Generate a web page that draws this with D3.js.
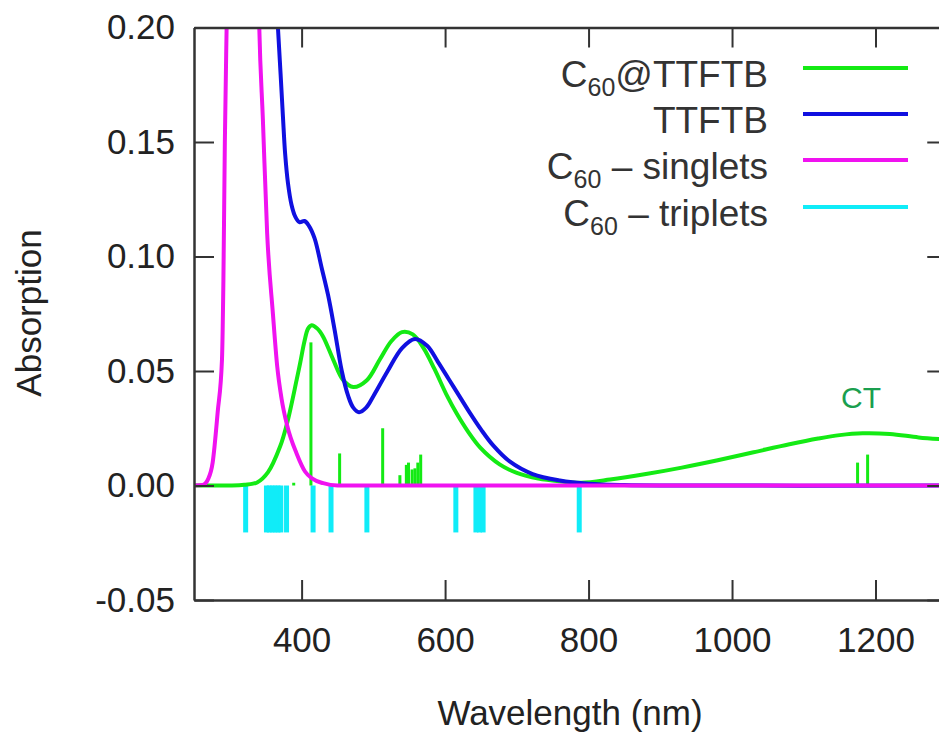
<!DOCTYPE html>
<html><head><meta charset="utf-8">
<script src="https://cdn.jsdelivr.net/npm/d3@7"></script>
<style>
html,body{margin:0;padding:0;background:#fff;}
svg{display:block;font-family:"Liberation Sans",Arial,Helvetica,sans-serif;}
</style></head>
<body>
<svg id="chart" width="939" height="736"></svg>
<script>
// ---- data ----
const xTickValues = [400, 600, 800, 1000, 1200];
const yTickValues = [-0.05, 0, 0.05, 0.10, 0.15, 0.20];
const yTickLabels = ["-0.05", "0.00", "0.05", "0.10", "0.15", "0.20"];

// C60@TTFTB spectrum
const compWl  = [250, 300, 320, 338, 353, 370, 380, 393, 398, 404, 409, 414, 422, 430, 444, 458, 472, 491, 509, 525, 540, 555, 570, 585, 603, 616, 632, 649, 676, 700, 730, 760, 790, 830, 880, 930, 980, 1030, 1080, 1120, 1150, 1182, 1220, 1260, 1300];
const compAbs = [0, 0, 0.0003, 0.0013, 0.0057, 0.017, 0.0275, 0.046, 0.0535, 0.063, 0.0685, 0.070, 0.0685, 0.065, 0.055, 0.046, 0.043, 0.046, 0.055, 0.063, 0.067, 0.066, 0.060, 0.051, 0.039, 0.0315, 0.0235, 0.0165, 0.0092, 0.0055, 0.003, 0.0018, 0.0012, 0.0026, 0.005, 0.0078, 0.011, 0.0145, 0.018, 0.0205, 0.022, 0.0228, 0.0225, 0.021, 0.020];

// TTFTB spectrum
const ttfWl  = [360, 367, 371, 374, 377, 381, 386, 391, 397, 404, 410, 418, 428, 437, 446, 456, 465, 472, 480, 490, 500, 520, 540, 558, 575, 590, 605, 621, 635, 650, 667, 690, 722, 760, 800, 850, 900, 1300];
const ttfAbs = [0.24, 0.20, 0.178, 0.161, 0.145, 0.132, 0.1225, 0.1175, 0.115, 0.1155, 0.1135, 0.108, 0.095, 0.083, 0.068, 0.050, 0.039, 0.034, 0.032, 0.034, 0.039, 0.050, 0.060, 0.064, 0.061, 0.054, 0.0465, 0.0385, 0.0315, 0.0245, 0.0175, 0.0105, 0.005, 0.0022, 0.0008, 0.0002, 0, 0];

// C60 singlets spectrum
const singWl  = [250, 262, 270, 276, 283, 289, 291, 293, 296, 300, 310, 320, 330, 336, 341, 346, 352, 360, 366, 372, 380, 393, 405, 415, 430, 450, 1300];
const singAbs = [0, 0.0002, 0.003, 0.010, 0.032, 0.055, 0.09, 0.15, 0.21, 0.30, 0.45, 0.48, 0.40, 0.29, 0.20, 0.16, 0.110, 0.075, 0.052, 0.038, 0.026, 0.014, 0.006, 0.003, 0.001, 0, 0];

// C60@TTFTB transitions (sticks)
const compStickWl  = [389, 413, 453, 513, 537, 546, 549, 554, 558, 562, 566, 1175, 1189];
const compStickAbs = [0.0012, 0.0625, 0.014, 0.025, 0.0045, 0.009, 0.010, 0.007, 0.0075, 0.010, 0.0135, 0.010, 0.0135];

// C60 triplet transitions (drawn downward)
const tripWl  = [322, 351, 355, 359, 363, 367, 371, 379, 416, 441, 491, 615, 643, 648, 653, 787];
const tripAbs = [-0.0205, -0.0205, -0.0205, -0.0205, -0.0205, -0.0205, -0.0205, -0.0205, -0.0205, -0.0205, -0.0205, -0.0205, -0.0205, -0.0205, -0.0205, -0.0205];

const legendNames = [["C", "60", "@TTFTB"], ["", "", "TTFTB"], ["C", "60", " \u2013 singlets"], ["C", "60", " \u2013 triplets"]];
const ctLabel = "CT";
const xTitle = "Wavelength (nm)";
const yTitle = "Absorption";

// ---- drawing ----
const colors = {comp: "#14ea14", ttf: "#1010e0", sing: "#f012f0", trip: "#10ecf8", ct: "#1a9f4f", axis: "#333"};
const svg = d3.select("#chart");
const L = 194, R = 947.25, T = 27.5, B = 600;
const x = d3.scaleLinear().domain([250, 1300]).range([L, R]);
const y = d3.scaleLinear().domain([-0.05, 0.20]).range([B, T]);

svg.append("defs").append("clipPath").attr("id", "clip")
  .append("rect").attr("x", L).attr("y", T).attr("width", R - L).attr("height", B - T);

const plot = svg.append("g").attr("clip-path", "url(#clip)");

// triplet sticks
plot.append("g").selectAll("line").data(tripWl).join("line")
  .attr("x1", d => x(d)).attr("x2", d => x(d))
  .attr("y1", y(0)).attr("y2", (d, i) => y(tripAbs[i]))
  .attr("stroke", colors.trip).attr("stroke-width", 5);

// composite sticks
plot.append("g").selectAll("line").data(compStickWl).join("line")
  .attr("x1", d => x(d)).attr("x2", d => x(d))
  .attr("y1", y(0)).attr("y2", (d, i) => y(compStickAbs[i]))
  .attr("stroke", colors.comp).attr("stroke-width", 3);

function curve(wl, ab, col, cv) {
  const line = d3.line().x(d => x(d[0])).y(d => y(d[1])).curve(cv);
  plot.append("path").datum(wl.map((w, i) => [w, ab[i]]))
    .attr("d", line).attr("fill", "none").attr("stroke", col)
    .attr("stroke-width", 4).attr("stroke-linejoin", "round");
}
curve(compWl, compAbs, colors.comp, d3.curveCatmullRom.alpha(0.5));
curve(ttfWl, ttfAbs, colors.ttf, d3.curveCatmullRom.alpha(0.5));
curve(singWl, singAbs, colors.sing, d3.curveMonotoneX);

// axes
const tickLen = 20;
const gx = svg.append("g").attr("transform", `translate(0,${B})`)
  .call(d3.axisBottom(x).tickValues(xTickValues).tickSize(-tickLen).tickSizeOuter(0).tickPadding(27).tickFormat(d3.format("d")));
const gxt = svg.append("g").attr("transform", `translate(0,${T})`)
  .call(d3.axisTop(x).tickValues(xTickValues).tickSize(-tickLen).tickSizeOuter(0).tickFormat(""));
const gy = svg.append("g").attr("transform", `translate(${L},0)`)
  .call(d3.axisLeft(y).tickValues(yTickValues).tickSize(-tickLen).tickSizeOuter(0).tickPadding(19)
    .tickFormat((d, i) => yTickLabels[i]));
const gyr = svg.append("g").attr("transform", `translate(${R},0)`)
  .call(d3.axisRight(y).tickValues(yTickValues).tickSize(-tickLen).tickSizeOuter(0).tickFormat(""));
[gx, gxt, gy, gyr].forEach(g => {
  g.selectAll(".domain").attr("stroke", colors.axis).attr("stroke-width", 2.5);
  g.selectAll(".tick line").attr("stroke", colors.axis).attr("stroke-width", 2);
  g.selectAll("text").attr("fill", "#222").style("font-size", "35px").style("font-family", '"Liberation Sans",Arial,sans-serif');
});

// axis titles
svg.append("text").attr("x", 570).attr("y", 725).attr("text-anchor", "middle")
  .attr("fill", "#222").style("font-size", "35px").text(xTitle);
svg.append("text").attr("transform", "translate(41,313) rotate(-90)").attr("text-anchor", "middle")
  .attr("fill", "#222").style("font-size", "35px").text(yTitle);

// CT label
svg.append("text").attr("x", 861).attr("y", 408).attr("text-anchor", "middle")
  .attr("fill", colors.ct).style("font-size", "30px").text(ctLabel);

// legend
const legCols = [colors.comp, colors.ttf, colors.sing, colors.trip];
const legRows = [68, 114, 160, 207];
legendNames.forEach((n, i) => {
  const yy = legRows[i];
  svg.append("line").attr("x1", 803).attr("x2", 908).attr("y1", yy).attr("y2", yy)
    .attr("stroke", legCols[i]).attr("stroke-width", 4);
  const t = svg.append("text").attr("x", 768).attr("y", yy + 19).attr("text-anchor", "end")
    .attr("fill", "#333").style("font-size", "37px");
  if (n[0]) {
    t.append("tspan").text(n[0]);
    t.append("tspan").attr("dy", 9).style("font-size", "25px").text(n[1]);
    t.append("tspan").attr("dy", -9).text(n[2]);
  } else {
    t.append("tspan").text(n[2]);
  }
});
</script>
</body></html>
